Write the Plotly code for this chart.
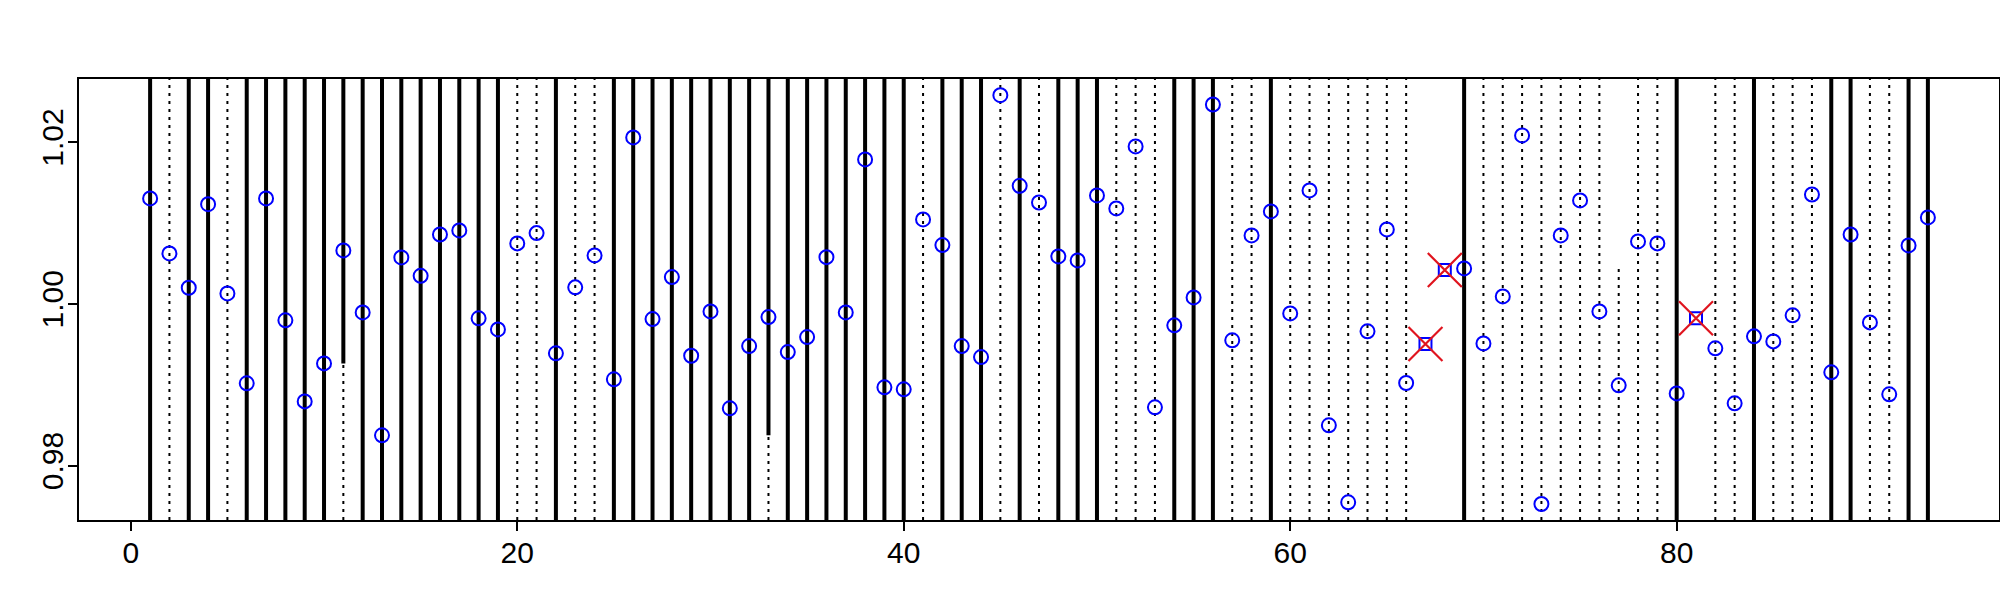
import plotly.graph_objects as go

# index 1..93
idx = list(range(1, 94))
values = [
    1.01303, 1.00623, 1.00198, 1.01232, 1.00128, 0.99016, 1.01303, 0.99795, 0.98793, 0.99263,
    1.00660, 0.99893, 0.98373, 1.00573, 1.00346, 1.00857, 1.00907, 0.99820, 0.99683, 1.00747,
    1.00874, 0.99387, 1.00203, 1.00598, 0.99066, 1.02057, 0.99811, 1.00330, 0.99357, 0.99906,
    0.98707, 0.99477, 0.99836, 0.99403, 0.99588, 1.00577, 0.99893, 1.01785, 0.98967, 0.98942,
    1.01043, 1.00726, 0.99477, 0.99341, 1.02580, 1.01459, 1.01253, 1.00586, 1.00536, 1.01340,
    1.01179, 1.01946, 0.98719, 0.99733, 1.00079, 1.02465, 0.99548, 1.00845, 1.01142, 0.99881,
    1.01402, 0.98497, 0.97545, 0.99659, 1.00920, 0.99020, 0.99502, 1.00417, 1.00437, 0.99510,
    1.00091, 1.02082, 0.97524, 1.00845, 1.01278, 0.99906, 0.98991, 1.00771, 1.00747, 0.98892,
    0.99820, 0.99449, 0.98769, 0.99597, 0.99535, 0.99857, 1.01352, 0.99152, 1.00857, 0.99770,
    0.98880, 1.00722, 1.01068,
]
flagged = [67, 68, 81]

# vertical line categories
solid_full = [1, 3, 4, 6, 7, 8, 9, 10, 12, 13, 14, 15, 16, 17, 18, 19, 22, 25, 26, 27,
              28, 29, 30, 31, 32, 34, 35, 36, 37, 38, 39, 40, 42, 43, 44, 46, 48, 49, 50,
              54, 55, 56, 59, 69, 80, 84, 88, 89, 92, 93]
dotted_full = [2, 5, 11, 20, 21, 23, 24, 33, 41, 45, 47, 51, 52, 53, 57, 58, 60, 61, 62,
               63, 64, 65, 66, 70, 71, 72, 73, 74, 75, 76, 78, 79, 82, 83, 85, 86, 87, 90, 91]
solid_partial_x = [11, 33]          # solid from this y up to the top
solid_partial_from = [0.99263, 0.98373]
dotted_partial_x = [77]             # dotted from bottom up to this y
dotted_partial_to = [1.00457]

x_range = [-2.68, 96.68]
y_range = [0.97326, 1.0278]

fig = go.Figure()

shapes = []
for v in dotted_full:
    shapes.append(dict(type="line", xref="x", yref="paper", x0=v, x1=v, y0=0, y1=1,
                       line=dict(color="black", width=2, dash="3px,5px"), layer="below"))
for v in solid_full:
    shapes.append(dict(type="line", xref="x", yref="paper", x0=v, x1=v, y0=0, y1=1,
                       line=dict(color="black", width=4), layer="below"))
for v, y0 in zip(solid_partial_x, solid_partial_from):
    shapes.append(dict(type="line", xref="x", yref="y", x0=v, x1=v, y0=y0, y1=y_range[1],
                       line=dict(color="black", width=4), layer="below"))
for v, y1 in zip(dotted_partial_x, dotted_partial_to):
    shapes.append(dict(type="line", xref="x", yref="y", x0=v, x1=v, y0=y_range[0], y1=y1,
                       line=dict(color="black", width=2, dash="3px,5px"), layer="below"))

normal_x = [i for i in idx if i not in flagged]
normal_y = [values[i - 1] for i in normal_x]
flag_y = [values[i - 1] for i in flagged]

fig.add_trace(go.Scatter(x=normal_x, y=normal_y, mode="markers",
                         marker=dict(symbol="circle-open", size=14, color="#0000FF",
                                     line=dict(width=2, color="#0000FF")),
                         showlegend=False))
fig.add_trace(go.Scatter(x=flagged, y=flag_y, mode="markers",
                         marker=dict(symbol="square-open", size=12, color="#0000FF",
                                     line=dict(width=2, color="#0000FF")),
                         showlegend=False))
fig.add_trace(go.Scatter(x=flagged, y=flag_y, mode="markers",
                         marker=dict(symbol="x-thin-open", size=34, color="#E0141E",
                                     line=dict(width=2.2, color="#E0141E")),
                         showlegend=False))

fig.update_layout(
    width=2000, height=600,
    margin=dict(l=79, r=1, t=79, b=80, autoexpand=False),
    paper_bgcolor="white", plot_bgcolor="white",
    shapes=shapes,
    font=dict(family="Liberation Sans, Arial, sans-serif", size=30, color="black"),
    xaxis=dict(range=x_range, tickvals=[0, 20, 40, 60, 80], ticks="outside", ticklen=9,
               tickwidth=2, tickcolor="black", showgrid=False, zeroline=False,
               showline=True, linewidth=2, linecolor="black", mirror=True,
               automargin=False, tickfont=dict(size=30), ticklabelstandoff=-4),
    yaxis=dict(range=y_range, tickvals=[0.98, 1.00, 1.02], tickformat=".2f",
               ticks="outside", ticklen=9, tickwidth=2, tickcolor="black",
               tickangle=-90, showgrid=False, zeroline=False,
               showline=True, linewidth=2, linecolor="black", mirror=True,
               automargin=False, tickfont=dict(size=30), ticklabelstandoff=-7),
)

fig.write_html("out.html", config={"displayModeBar": False},
               post_script="document.body.style.margin='0';document.body.style.overflow='hidden';")
